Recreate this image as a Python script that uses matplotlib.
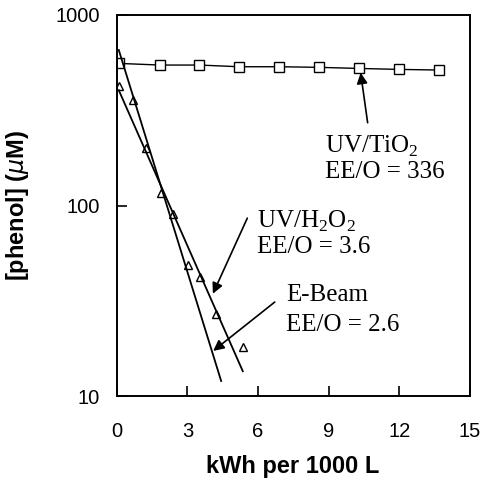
import matplotlib.pyplot as plt
import numpy as np

plt.rcParams['font.family'] = ['Liberation Sans', 'DejaVu Sans']

# UV/TiO2 (squares)
tio2_x = [0.08, 1.83, 3.5, 5.19, 6.9, 8.6, 10.3, 12.0, 13.7]
tio2_y = [557, 546, 546, 535, 535, 531, 524, 518, 514]

# triangles (UV/H2O2 + E-Beam data)
tri_x = [0.08, 0.69, 1.22, 1.87, 2.4, 3.03, 3.54, 4.21, 5.37]
tri_y = [425, 360, 200, 117, 90, 49, 42, 27, 18]

# fitted lines
h2o2_fit_x = [0.08, 5.35]
h2o2_fit_y = [403, 13.5]
ebeam_fit_x = [0.08, 4.43]
ebeam_fit_y = [655, 12]

serif = 'Liberation Serif'

fig = plt.figure(figsize=(4.81, 4.83), dpi=100)
ax = fig.add_axes([0.243, 0.180, 0.734, 0.789])

ax.plot(tio2_x, tio2_y, color='black', lw=1.0, marker='s', ms=7,
        mfc='white', mec='black', mew=1.0)
ax.plot(tri_x, tri_y, ls='none', marker='^', ms=6, mfc='white',
        mec='black', mew=1.0)
ax.plot(h2o2_fit_x, h2o2_fit_y, color='black', lw=1.3)
ax.plot(ebeam_fit_x, ebeam_fit_y, color='black', lw=1.3)

ax.set_yscale('log')
ax.set_xlim(0, 15)
ax.set_ylim(10, 1000)
ax.set_xticks([0, 3, 6, 9, 12, 15])
ax.set_yticks([10, 100, 1000])
ax.set_yticklabels(['10', '100', '1000'])
ax.minorticks_off()
ax.tick_params(direction='in', length=7, width=1.2, labelsize=14.5,
               top=False, right=False)
ax.tick_params(axis='x', pad=19)
ax.tick_params(axis='y', pad=12)
for s in ax.spines.values():
    s.set_linewidth(1.4)

ax.set_xlabel('kWh per 1000 L', fontsize=17, fontweight='bold')
ax.xaxis.set_label_coords(0.497, -0.155)
ax.set_ylabel(r'[phenol] ($\mu$M)', fontsize=17, fontweight='bold')
ax.yaxis.set_label_coords(-0.244, 0.5)

arrow = dict(arrowstyle='-|>', color='black', lw=1.2, mutation_scale=16)
ax.annotate('', xy=(10.34, 514), xytext=(10.67, 263), arrowprops=arrow)
ax.annotate('', xy=(4.03, 33.4), xytext=(5.59, 88.5), arrowprops=arrow)
ax.annotate('', xy=(4.0, 16.9), xytext=(6.8, 31.8), arrowprops=arrow)

ax.text(8.84, 188, r'UV/TiO$_\mathregular{2}$', family=serif, fontsize=18)
ax.text(8.84, 140, 'EE/O = 336', family=serif, fontsize=18)
ax.text(5.94, 76.5, r'UV/H$_\mathregular{2}$O$_\mathregular{2}$', family=serif, fontsize=18)
ax.text(5.94, 56.6, 'EE/O = 3.6', family=serif, fontsize=18)
ax.text(7.18, 31.6, 'E-Beam', family=serif, fontsize=18)
ax.text(7.18, 22, 'EE/O = 2.6', family=serif, fontsize=18)

plt.savefig('out.png', dpi=100)
